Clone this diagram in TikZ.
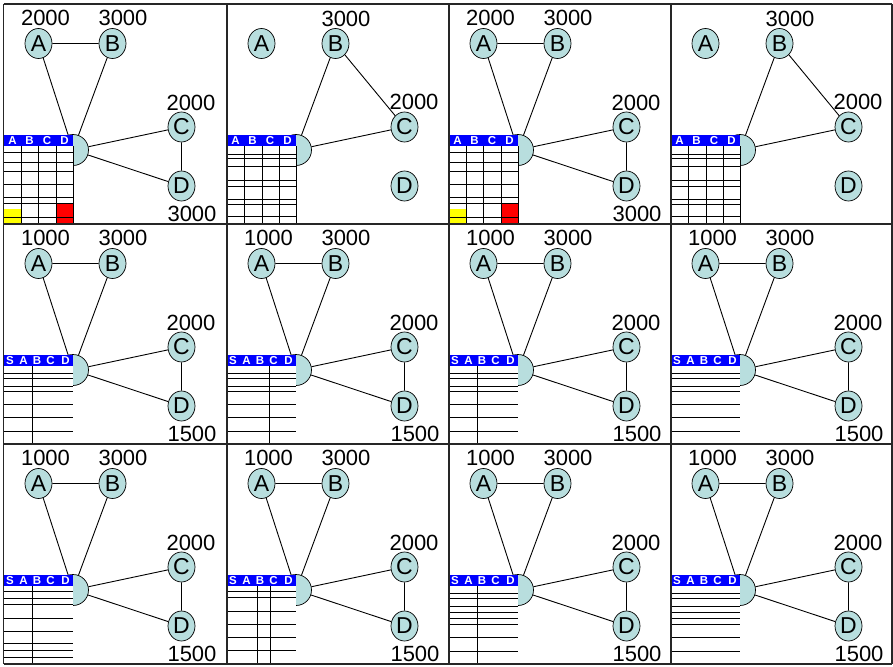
\documentclass[tikz,border=0pt]{standalone}
\usepackage{fontspec}
\setmainfont{Liberation Sans}
\usetikzlibrary{shapes.geometric}

\definecolor{nodefill}{RGB}{184,222,222}
\definecolor{hdrblue}{RGB}{0,0,255}
\definecolor{cellyellow}{RGB}{255,255,0}
\definecolor{cellred}{RGB}{255,0,0}

\tikzset{
  vtx/.style={ellipse, draw, line width=0.7pt, fill=nodefill,
    minimum width=27pt, minimum height=30pt, inner sep=0pt,
    font=\fontsize{23}{23}\selectfont},
  src/.style={circle, draw, line width=0.7pt, fill=nodefill,
    minimum size=31pt, inner sep=0pt},
  weightlabel/.style={inner sep=0pt, font=\fontsize{22}{22}\selectfont},
  link/.style={line width=0.9pt},
  gridrule/.style={line width=1pt},
  hdrtext/.style={inner sep=0pt, text=white, font=\bfseries\fontsize{11.5}{11.5}\selectfont},
  panelframe/.style={line width=1.2pt, draw=black!85},
}

% the four vertices and the half-hidden source node of one panel
\newcommand\vertices[1]{%
  \node[src] (#1S) at (73,150) {};
  \node[vtx] (#1A) at (38.5,43.5) {A};
  \node[vtx] (#1B) at (112.5,43.5) {B};
  \node[vtx] (#1C) at (181.5,127) {C};
  \node[vtx] (#1D) at (181.5,186) {D};
}
\newcommand\alledges[1]{%
  \draw[link] (#1A) -- (#1B) (#1A) -- (#1S) (#1B) -- (#1S)
              (#1S) -- (#1C) (#1S) -- (#1D) (#1C) -- (#1D);
}
\newcommand\someedges[1]{%
  \draw[link] (#1B) -- (#1S) (#1B) -- (#1C) (#1S) -- (#1C);
}
\newcommand\weights[5]{%
  \node[weightlabel] (#1wa) at (45.5,18) {#2};
  \node[weightlabel] (#1wb) at (123,18) {#3};
  \node[weightlabel] (#1wc) at (191,103) {#4};
  \node[weightlabel] (#1wd) at (192,214) {#5};
}
% white table body with its blue header band, left edge #1
\newcommand\tablebase[1]{%
  \fill[white] (#1,135) rectangle (73,224);
  \fill[hdrblue] (#1,135) rectangle (73,146);
}
\newcommand\headABCD[1]{%
  \node[hdrtext] (#1h1) at (12.5,140.5) {A};
  \node[hdrtext] (#1h2) at (29.5,140.5) {B};
  \node[hdrtext] (#1h3) at (47,140.5) {C};
  \node[hdrtext] (#1h4) at (64.5,140.5) {D};
}
\newcommand\headSABCD[1]{%
  \node[hdrtext] (#1h0) at (10,140.5) {S};
  \node[hdrtext] (#1h1) at (23.5,140.5) {A};
  \node[hdrtext] (#1h2) at (37,140.5) {B};
  \node[hdrtext] (#1h3) at (50.5,140.5) {C};
  \node[hdrtext] (#1h4) at (65.5,140.5) {D};
}
% table with coloured cells
\newcommand\colourtable[1]{%
  \tablebase{3}
  \fill[cellyellow] (3,209) rectangle (21,223);
  \fill[cellred] (56,203) rectangle (73,223);
  \foreach \yy in {152,162,171,184,197,203,217,223} \draw[gridrule] (3,\yy) -- (73,\yy);
  \foreach \xx in {21,38,56,73} \draw[gridrule] (\xx,146) -- (\xx,223);
  \headABCD{#1}
}
% plain four-column table
\newcommand\plaintable[1]{%
  \tablebase{5}
  \foreach \yy in {154,158,166,180,186,199,204,216,223} \draw[gridrule] (5,\yy) -- (73,\yy);
  \foreach \xx in {21,39,56,73} \draw[gridrule] (\xx,146) -- (\xx,223);
  \headABCD{#1}
}

\begin{document}
\begin{tikzpicture}[x=1pt,y=-1pt]
\useasboundingbox (0,0) rectangle (893,666);
\fill[white] (0,0) rectangle (893,666);

% ---------- first row ----------
\begin{scope}[shift={(0,0)}]
  \vertices{pa}
  \colourtable{pa}
  \alledges{pa}
  \weights{pa}{2000}{3000}{2000}{3000}
\end{scope}
\begin{scope}[shift={(223,0)}]
  \vertices{pb}
  \plaintable{pb}
  \someedges{pb}
  \node[weightlabel] (pbwb) at (123,19) {3000};
  \node[weightlabel] (pbwc) at (191,102) {2000};
\end{scope}
\begin{scope}[shift={(445,0)}]
  \vertices{pc}
  \colourtable{pc}
  \alledges{pc}
  \weights{pc}{2000}{3000}{2000}{3000}
\end{scope}
\begin{scope}[shift={(667,0)}]
  \vertices{pd}
  \plaintable{pd}
  \someedges{pd}
  \node[weightlabel] (pdwb) at (123,19) {3000};
  \node[weightlabel] (pdwc) at (191,102) {2000};
\end{scope}

% ---------- second row ----------
\begin{scope}[shift={(0,220)}]
  \vertices{qa}
  \tablebase{4}
  \foreach \yy in {153,158,166,171,184,197,211} \draw[gridrule] (4,\yy) -- (73,\yy);
  \draw[gridrule] (32,146) -- (32,224);
  \headSABCD{qa}
  \alledges{qa}
  \weights{qa}{1000}{3000}{2000}{1500}
\end{scope}
\begin{scope}[shift={(223,220)}]
  \vertices{qb}
  \tablebase{5}
  \foreach \yy in {153,158,166,171,184,197,211} \draw[gridrule] (5,\yy) -- (73,\yy);
  \draw[gridrule] (46,146) -- (46,224);
  \headSABCD{qb}
  \alledges{qb}
  \weights{qb}{1000}{3000}{2000}{1500}
\end{scope}
\begin{scope}[shift={(445,220)}]
  \vertices{qc}
  \tablebase{5}
  \foreach \yy in {153,158,166,171,184,197,211} \draw[gridrule] (5,\yy) -- (73,\yy);
  \draw[gridrule] (32,146) -- (32,224);
  \headSABCD{qc}
  \alledges{qc}
  \weights{qc}{1000}{3000}{2000}{1500}
\end{scope}
\begin{scope}[shift={(667,220)}]
  \vertices{qd}
  \tablebase{5}
  \foreach \yy in {153,158,166,171,184,197,211} \draw[gridrule] (5,\yy) -- (73,\yy);
  \headSABCD{qd}
  \alledges{qd}
  \weights{qd}{1000}{3000}{2000}{1500}
\end{scope}

% ---------- third row ----------
\begin{scope}[shift={(0,440)}]
  \vertices{ra}
  \tablebase{4}
  \foreach \yy in {151,158,164,178,191,203,210,217} \draw[gridrule] (4,\yy) -- (73,\yy);
  \draw[gridrule] (32,146) -- (32,224);
  \headSABCD{ra}
  \alledges{ra}
  \weights{ra}{1000}{3000}{2000}{1500}
\end{scope}
\begin{scope}[shift={(223,440)}]
  \vertices{rb}
  \tablebase{5}
  \foreach \yy in {151,157,171,184,197,210} \draw[gridrule] (5,\yy) -- (73,\yy);
  \draw[gridrule] (34,146) -- (34,224) (47,146) -- (47,224);
  \headSABCD{rb}
  \alledges{rb}
  \weights{rb}{1000}{3000}{2000}{1500}
\end{scope}
\begin{scope}[shift={(445,440)}]
  \vertices{rc}
  \tablebase{5}
  \foreach \yy in {153,158,166,172,178,184,197,211} \draw[gridrule] (5,\yy) -- (73,\yy);
  \draw[gridrule] (32,146) -- (32,224);
  \headSABCD{rc}
  \alledges{rc}
  \weights{rc}{1000}{3000}{2000}{1500}
\end{scope}
\begin{scope}[shift={(667,440)}]
  \vertices{rd}
  \tablebase{5}
  \foreach \yy in {153,158,166,172,178,184,197,211} \draw[gridrule] (5,\yy) -- (73,\yy);
  \headSABCD{rd}
  \alledges{rd}
  \weights{rd}{1000}{3000}{2000}{1500}
\end{scope}

% ---------- panel frames ----------
\foreach \xx in {3.5,227,449,671,892} \draw[panelframe] (\xx,4) -- (\xx,664);
\foreach \yy in {4,224,444,664} \draw[panelframe] (3.5,\yy) -- (892,\yy);
\end{tikzpicture}
\end{document}
